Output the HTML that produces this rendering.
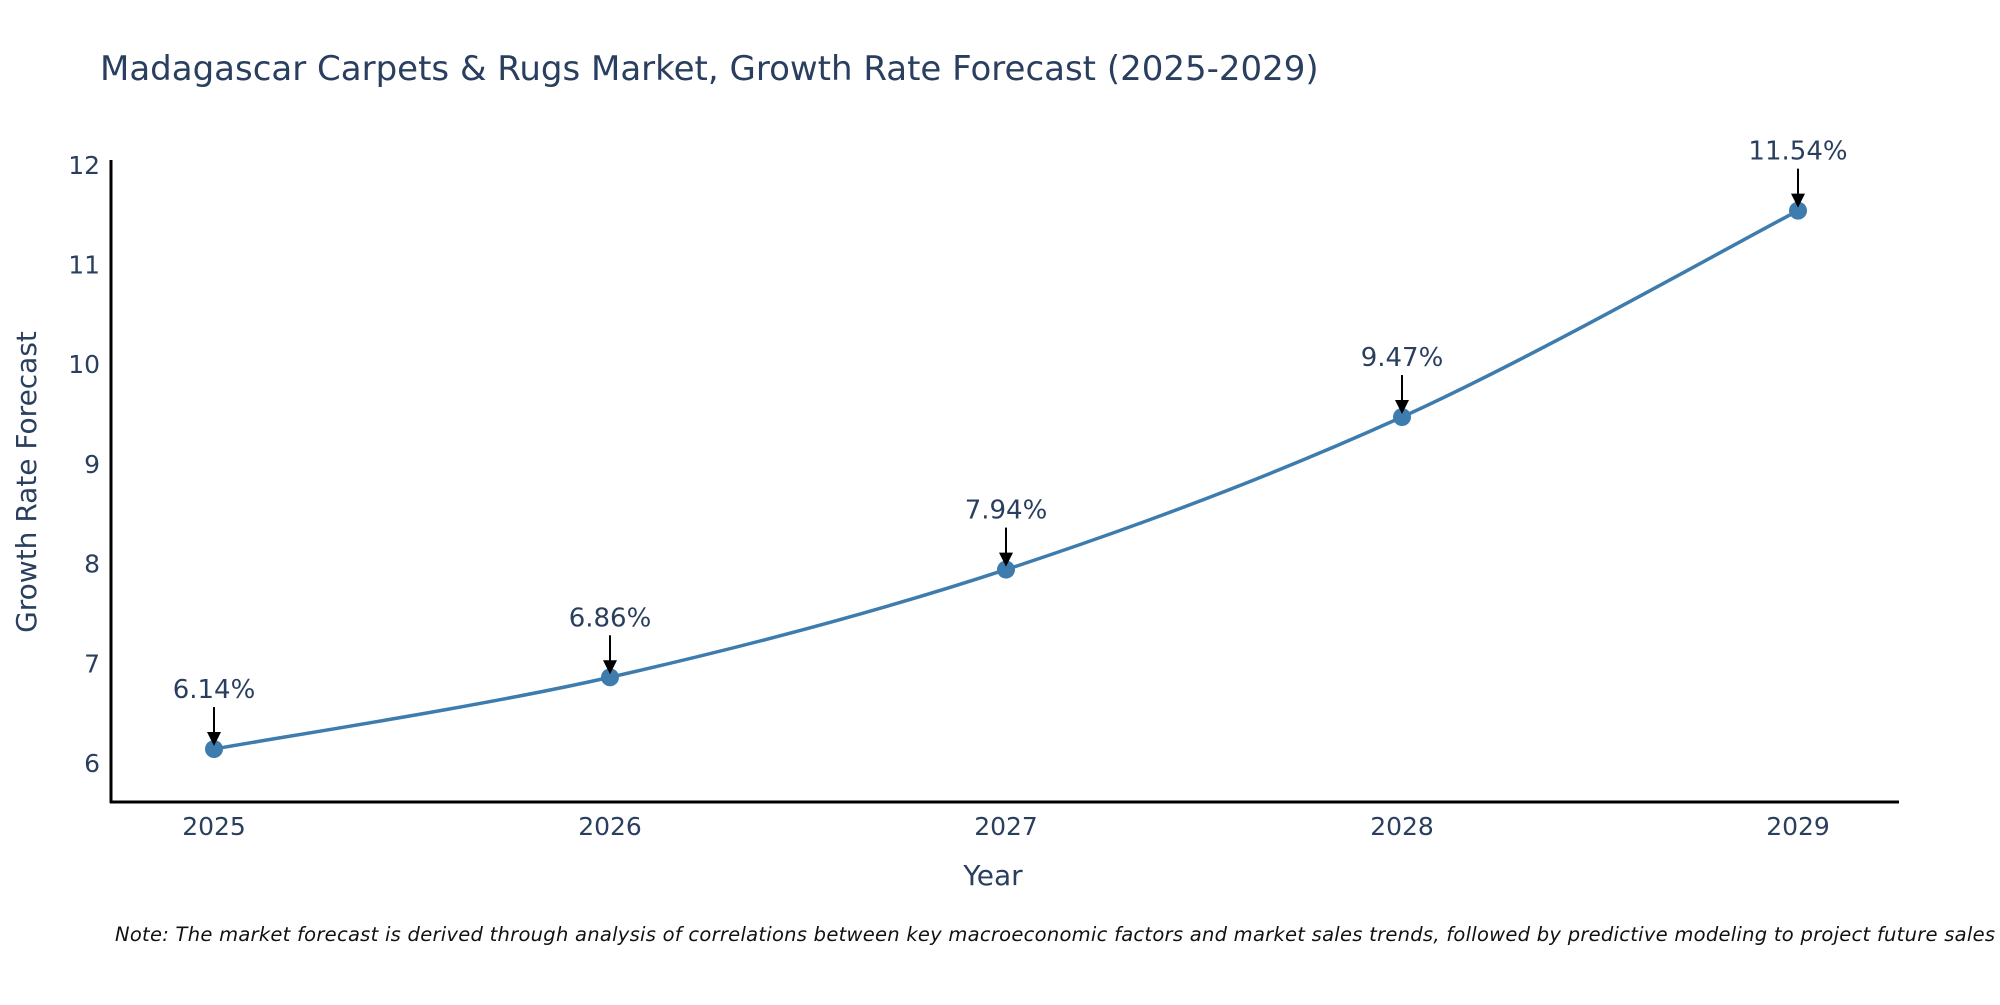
<!DOCTYPE html>
<html><head><meta charset="utf-8"><style>
body{margin:0;background:#fff;}
svg text{font-family:"DejaVu Sans","Liberation Sans",sans-serif;fill:#2a3f5f;}
</style></head><body>
<svg width="2000" height="1000" xmlns="http://www.w3.org/2000/svg">
<text x="100" y="80" font-size="34">Madagascar Carpets &amp; Rugs Market, Growth Rate Forecast (2025-2029)</text>
<g id="plot"></g>
<text x="993" y="885" font-size="28" text-anchor="middle">Year</text>
<text transform="translate(36,482) rotate(-90)" font-size="28" text-anchor="middle">Growth Rate Forecast</text>
<text x="115" y="941" font-size="19.5" font-style="italic" textLength="1880" lengthAdjust="spacing" style="fill:#111">Note: The market forecast is derived through analysis of correlations between key macroeconomic factors and market sales trends, followed by predictive modeling to project future sales</text>
</svg>
<script>
const years=["2025","2026","2027","2028","2029"];
const values=[6.14,6.86,7.94,9.47,11.54];
const yTicks=[6,7,8,9,10,11,12];
const NS="http://www.w3.org/2000/svg";
const g=document.getElementById('plot');
function xS(i){return 214+i*396;}
function yS(v){return 763-(v-6)*99.7;}
function mk(t,a){const e=document.createElementNS(NS,t);for(const k in a)e.setAttribute(k,a[k]);g.appendChild(e);return e;}
let ax=mk('line',{x1:111,y1:160,x2:111,y2:803,stroke:'#000','stroke-width':3});


ax=mk('line',{x1:110,y1:802,x2:1899,y2:802,stroke:'#000','stroke-width':3});


yTicks.forEach(v=>{
 const t=mk('text',{x:100,y:yS(v)+9,'font-size':25,'text-anchor':'end'});t.textContent=v;
 
 
});
years.forEach((y,i)=>{
 const t=mk('text',{x:xS(i),y:835,'font-size':25,'text-anchor':'middle'});t.textContent=y;
 
 
});
const P=values.map((v,i)=>[xS(i),yS(v)]);
let d='M'+P[0][0]+','+P[0][1];
for(let i=0;i<P.length-1;i++){
 const p0=P[Math.max(i-1,0)],p1=P[i],p2=P[i+1],p3=P[Math.min(i+2,P.length-1)];
 const c1=[p1[0]+(p2[0]-p0[0])/6,p1[1]+(p2[1]-p0[1])/6];
 const c2=[p2[0]-(p3[0]-p1[0])/6,p2[1]-(p3[1]-p1[1])/6];
 d+=' C'+c1+' '+c2+' '+p2;
}
const path=mk('path',{d:d,fill:'none',stroke:'#3d7cad','stroke-width':3.5});


values.forEach((v,i)=>{
 const x=xS(i),y=yS(v);
 const c=mk('circle',{cx:x,cy:y,r:9,fill:'#3d7cad'});
 
 
 const l=mk('line',{x1:x,y1:y-42,x2:x,y2:y-14,stroke:'#000','stroke-width':2});
 
 
 const a=mk('polygon',{points:(x-7)+','+(y-17)+' '+(x+7)+','+(y-17)+' '+x+','+(y-3),fill:'#000'});
 
 
 const t=mk('text',{x:x,y:y-51,'font-size':26,'text-anchor':'middle'});t.textContent=v.toFixed(2)+'%';
 
 
});
</script>
</body></html>
